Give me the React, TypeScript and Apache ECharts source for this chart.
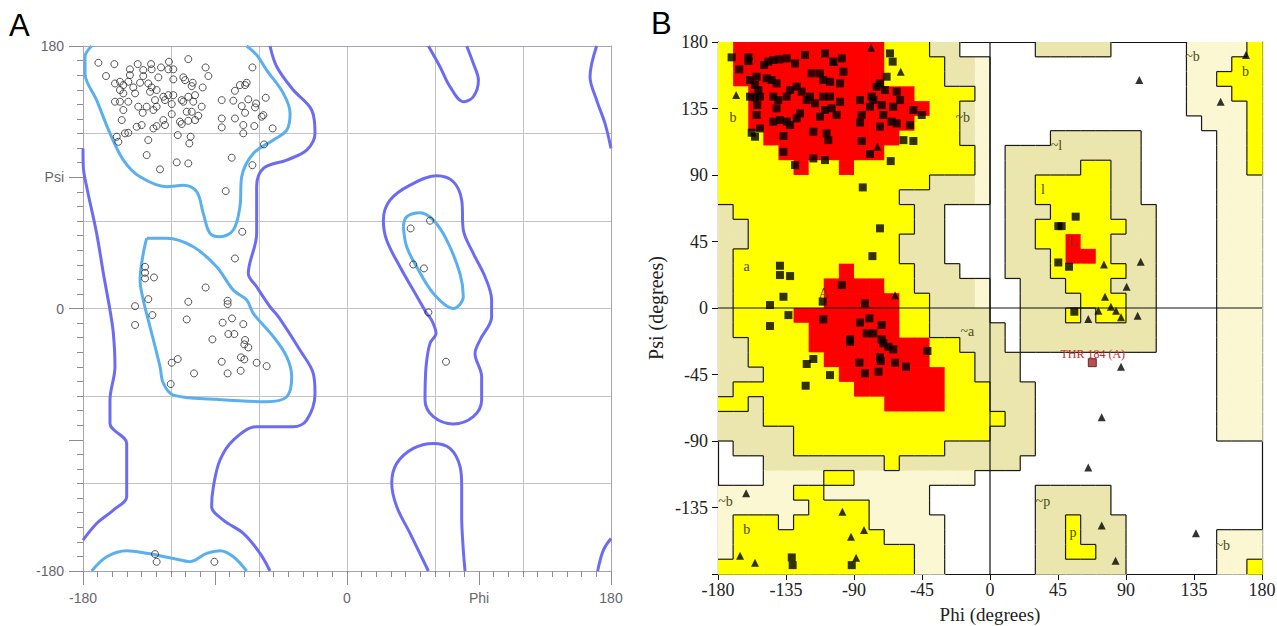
import React, { useEffect, useRef } from 'react';
import * as echarts from 'echarts';

// ---------------- Panel A data (phi, psi) ----------------
const A_POINTS: number[][] = [
  [-169.5,168.5],[-158.6,167.6],[-164.3,159.4],[-142.7,167.6],[-133.6,167.6],[-121.4,169.2],[-108.2,171],[-96.4,165.3],[-94.5,159.4],[-64.5,165.3],
  [-148,164],[-138.9,163.5],[-133.2,164],[-126.8,165.3],[-121.8,164],[-118.4,164],[-148,160.1],[-138.9,159.4],[-128.6,158.5],[-118.4,157.1],[-111.6,158.5],
  [-158.2,154.3],[-154.8,155.5],[-152.5,153.2],[-149.1,155.5],[-145.7,151.6],[-141.1,154.8],[-135.5,154.3],[-133.2,151.6],[-129.8,149.8],[-110.4,156.6],
  [-105.9,152.5],[-105.2,154.8],[-98.4,151.6],[-154.8,149.8],[-152.5,147.5],[-144.5,147.5],[-134.3,148.6],[-125.2,145.2],[-121.8,146.3],[-118.4,146.3],
  [-112.7,142.9],[-108.2,145.2],[-103.6,146.3],[-158.2,141.8],[-154.8,141.8],[-149.1,141.8],[-142.3,138.4],[-136.6,138.4],[-130.9,142.9],[-129.8,138.4],
  [-124.1,142.9],[-119.5,140.2],[-111.6,141.8],[-104.8,141.8],[-99.1,138.4],[-152.5,136.1],[-139.3,134.2],[-132,136.1],[-119.5,133.3],[-109.3,134.9],
  [-105.9,134.9],[-101.4,132.2],[-153.6,129.2],[-143.4,124.6],[-140,125.8],[-132,123.5],[-129.8,125.1],[-125.2,129.2],[-124.1,125.8],[-113.9,128.1],
  [-112.7,126.5],[-108.2,128.7],[-103.6,129.2],[-157,117.8],[-155.9,114.3],[-151.4,120.1],[-149.1,120.5],[-135.5,115.5],[-115.4,118.9],[-106.6,117.8],
  [-107.5,113.2],[-85.4,142.9],[-77.5,142.5],[-71.8,138.8],[-67.3,143.4],[-62,140.6],[-85.4,130.3],[-76.4,130.3],[-69.5,134.2],[-62.7,137.9],
  [-58.2,131.5],[-85.4,124.2],[-70.7,125.8],[-63.2,125.1],[-50.7,123.5],[-70.7,120.1],[-76.4,149.3],[-73,153.2],[-69.5,153.2],[-68.4,154.8],
  [-55.4,144.5],[-57,132.6],[-56.6,112.5],[-136.6,105.2],[-127.5,95.4],[-116.1,100.2],[-108.2,99.5],[-78.6,103.4],[-64.5,98.3],[-82.7,80.5],
  [-71.4,52.6],[-76.4,34.3],[-137.7,28.6],[-137.7,24.5],[-137.7,20.6],[-131.6,21.3],[-96.4,14.4],[-144.5,1.6],[-135.5,6.4],[-108.2,4.6],
  [-81.4,5.3],[-81.4,3],[-132.7,-4.5],[-144.5,-11.3],[-109.3,-7.5],[-78.4,-6.8],[-84.8,-9.7],[-70.7,-10.7],[-80.9,-17.5],[-76.8,-17.5],
  [-91.8,-21.2],[-69.5,-21.6],[-70,-24.6],[-67.3,-26.7],[-72.3,-33.5],[-70,-34.9],[-85.4,-36.5],[-61.6,-37.2],[-54.8,-39.5],[-81.4,-44.5],
  [-72.5,-42.7],[-119.5,-37.2],[-115.4,-34.7],[-104.3,-44.5],[-120.2,-51.8],[-130.9,-168.4],[-129.8,-173.7],[-90.4,-173.7],
  [56.6,60.2],[43.4,54.9],[45.2,30.2],[52.5,27.5],[55.5,-2.7],[67.5,-36.5]
];

const A_INNER: number[][][] = [
  [[-174.1,180],[-178.6,172.6],[-178.6,161.2],[-170.7,142.9],[-161.6,120.1],[-152.5,101.8],[-141.1,90.3],[-122.9,83.5],[-111.6,84.6],[-102.5,80.1],[-98,65.2],[-93.4,51.5],[-86.6,49.2],[-77.5,53.8],[-73,69.8],[-71.8,90.3],[-63.9,106.3],[-50.2,115.5],[-41.1,122.3],[-38.8,133.8],[-43.4,147.5],[-54.8,163.5],[-61.6,173.8],[-68.4,180]],
  [[-136.6,48.1],[-138.9,37.8],[-141.1,19.5],[-138.9,5.8],[-135.5,-7.9],[-132,-21.6],[-127.5,-39.9],[-125.2,-51.4],[-118.4,-59.4],[-88.9,-62.3],[-54.8,-63.9],[-41.1,-60.5],[-37.7,-46.8],[-41.1,-33.1],[-50.2,-19.3],[-63.9,-3.3],[-68.4,5.8],[-77.5,12.6],[-88.9,28.6],[-104.8,42.3],[-123,48.1],[-136.6,48.1]],
  [[38.4,56.1],[40.7,42.3],[47.5,28.6],[58.9,10.3],[72.5,0],[79.3,8],[77,24],[68,46.9],[58.9,60.6],[49.8,65.7],[40.7,62.9],[38.4,56.1]],
  [[-174.1,-180],[-163.8,-170.2],[-150.2,-166.1],[-136.6,-167.9],[-118.4,-171.4],[-107,-173.6],[-95.7,-167.9],[-86.6,-166.1],[-77.5,-170.2],[-68.4,-180]]
];

const A_OUTER: number[][][] = [
  [[-180,109.8],[-179.8,97.2],[-177.5,83.5],[-170.7,51.5],[-166.1,24],[-161.6,-1.1],[-159.3,-17.1],[-158.2,-39.9],[-161.6,-62.8],[-161.6,-78.8],[-150.2,-92.5],[-150.2,-108.5],[-150.2,-129.1],[-159.3,-138.2],[-170.7,-147.4],[-180,-158.8]],
  [[-52.5,180],[-47.9,165.8],[-36.6,149.8],[-24.1,136.1],[-21.8,120.1],[-27.5,108.6],[-41.1,101.8],[-57,96.1],[-61.6,83.5],[-61.6,51.5],[-67.3,24],[-61.6,14.9],[-52.5,1.2],[-46.8,-5.6],[-32.1,-28.5],[-23,-44.5],[-21.8,-58.2],[-27.5,-76.5],[-36.6,-81.1],[-61.6,-81.1],[-77.5,-90.2],[-86.6,-103.9],[-91.1,-122.2],[-92.3,-135.9],[-84.3,-145.1],[-70.7,-154.2],[-59.3,-167.9],[-52.5,-180]],
  [[55.5,180],[63.4,165.8],[70.2,152.1],[79.3,141.8],[86.1,145.2],[89.6,156.6],[86.1,168.1],[81.6,180]],
  [[170.2,180],[165.7,158.9],[170.2,142.9],[175.9,126.9],[180,109.8]],
  [[54.3,-3.4],[45.2,12.6],[36.1,28.6],[27,46.9],[24.8,60.6],[29.3,74.3],[43,84.6],[61.1,91],[72.5,86.9],[78.2,74.3],[79.3,53.8],[86.1,37.8],[94.1,21.8],[98.6,5.8],[98.6,-5.6],[90.7,-21.6],[87.3,-30.8],[91.8,-46.8],[91.8,-62.8],[86.1,-74.2],[72.5,-79.2],[58.9,-74.2],[53.2,-62.8],[53.9,-39.9],[56.6,-23.9],[60.7,-17.1],[57.7,-7.9],[54.3,-3.4]],
  [[55.5,-180],[43,-154.2],[33.9,-135.9],[30.5,-119.9],[33.9,-106.2],[45.2,-95.9],[58.9,-92.5],[70.2,-95.9],[77.1,-108.5],[78.2,-122.2],[78.2,-142.8],[79.3,-165.7],[80.5,-180]],
  [[170.9,-180],[174.8,-165.7],[180,-157.7]]
];

// ---------------- Panel B data ----------------
// 10-degree cells, rows from psi 180 (top) down, columns from phi -180 (left)
const B_MAP: string[] = [
  'YRRRRRRRRRRYYYGGWWWWWGGGGGWWWWWLLLLY',
  'YRRRRRRRRRRYYYYGGLWWWWWWWWWWWWWLLLYY',
  'YRRRRRRRRRRYYYYGGLWWWWWWWWWWWWWLLYYY',
  'YYRRRRRRRRRRRYYYYLWWWWWWWWWWWWWLLLYY',
  'YYRRRRRRRRRRRRYYGLWWWWWWWWWWWWWLLLLY',
  'YYRRRRRRRRRRRYYYGLWWWWWWWWWWWWWWLLLY',
  'YYYRRRRRRRRRYYYYGLWWWWGGGGGGWWWWWLLY',
  'YYYYRRRRRRRYYYYYYLWGGGGGGGGGWWWWWLLY',
  'YYYYYRYYRYYYYYYYYLWGGGGGYYGGWWWWWLLY',
  'YYYYYYYYYYYYYYGGGLWGGYYYYYGGWWWWWLLL',
  'YYYYYYYYYYYYGGGGGLWGGYYYYYGGWWWWWLLL',
  'GYYYYYYYYYYYYGGWWWWGGGYYYYGGGWWWWLLL',
  'GGYYYYYYYYYYYGGWWWWGGYYYYYYGGWWWWLLL',
  'GGYYYYYYYYYYGGGWWWWGGYYRYYGGGWWWWLLL',
  'GYYYYYYYYYYYGGGWWWWGGGYRRYGGGWWWWLLL',
  'GYYYYYYYRYYYYGGGWWWGGGYYYYYGGWWWWLLL',
  'GYYYYYYRRRRYYGGGGLWWGGGYYYGGGWWWWLLL',
  'GYYYYYYRRRRRYYGGGLWWGGGGYYYGGWWWWLLL',
  'GYYYYRRRRRRRYYGGGGWWGGGYGYYGGWWWWLLL',
  'GYYYYYRRRRRRYYGGGGGWGGGGGGGGGWWWWLLL',
  'GGYYYYRRRRRRRRYYGGGWGGGGGGGGGWWWWLLL',
  'GGYYYYYRRRRRRRYYYGGGWWWWWWWWWWWWWLLL',
  'GGGYYYYYRRRRRRRYYGGGWWWWWWWWWWWWWLLL',
  'GYYYYYYYYRRRRRRYYYGGGWWWWWWWWWWWWLLL',
  'YYGYYYYYYYYRRRRYYYGGGWWWWWWWWWWWWLLL',
  'GGGYYYYYYYYYYYYYYYYGGWWWWWWWWWWWWLLL',
  'GGGGGYYYYYYYYYYYYYGGGWWWWWWWWWWWWLLL',
  'WGGGGYYYYYYYYYYGGGGGGWWWWWWWWWWWWWWW',
  'WWWGGGGGGGGYGGGGGGGGWWWWWWWWWWWWWWWW',
  'WWWLLLLYYLLLLLLLLWWWWWWWWWWWWWWWWWWW',
  'LLLLLYYLLLLLLLWWWWWWWGGGGGWWWWWWWWWW',
  'LLLLLLYYYYLLLLWWWWWWWGGGGGWWWWWWWWWW',
  'LYYYLYYYYYLLLLLWWWWWWGGYGGGWWWWWWWWW',
  'LYYYYYYYYYYLLLLWWWWWWGGYGGGWWWWWWLLL',
  'LYYYYYYYYYYYYLLWWWWWWGGYYGGWWWWWWLLL',
  'YYYYYYYYYYYYYLLWWWWWWGGGGGGWWWWWWLLY'
];

const B_SQUARES: number[][] = [
  [-171,169.6],[-165.9,161.5],[-159.9,169.6],[-159.9,167.1],[-158.8,154.3],[-154.4,156.5],[-155.5,150.9],[-153.3,147.5],[-158.8,143],[-155.5,142.5],
  [-152.2,143],[-154,137.3],[-154.4,130.6],[-157.7,118.6],[-155.5,115.9],[-152.2,121.5],[-149.5,164.4],[-146.7,166.7],[-143.4,167.8],[-139.4,168.2],
  [-134.5,168.9],[-129,165.5],[-122.4,171.2],[-147.8,155.4],[-144.5,154.3],[-141.2,152],[-143.4,143],[-140.1,140.7],[-141.2,135.1],[-143.4,126.1],
  [-139,127.2],[-134.5,126.1],[-136.7,116.4],[-132.3,123.8],[-127.9,128.3],[-125.7,131.7],[-134.5,143],[-132.3,147.5],[-127.9,149.7],[-124.6,146.4],
  [-121.3,140.7],[-119.1,143],[-115.8,138.5],[-118,158.8],[-112.5,158.8],[-109.2,172.3],[-110.3,154.3],[-105.9,153.1],[-99.2,152],[-98.1,168.9],
  [-97,159.9],[-103.7,166.7],[-116.9,119.3],[-108.1,118.2],[-107,113.6],[-112.5,129.4],[-109.2,134],[-104.8,135.1],[-101.5,130.6],[-105.9,143],
  [-110.3,143],[-99.2,139.6],[-136.7,105.7],[-129,96.7],[-116.9,101.2],[-109.2,100.1],[-84.9,113],[-79.4,104.2],[-65.7,99.4],[-86,140.7],
  [-84.9,130.6],[-86,125.4],[-79.4,136.2],[-78.3,143],[-75,149.7],[-72.8,152],[-68.4,156.5],[-66.2,172.3],[-64.4,166.7],[-61.7,146.4],
  [-59.5,140.7],[-64,136.2],[-61.7,124.9],[-65.1,126.1],[-57.3,113.6],[-50.7,113],[-50.7,134],[-45.2,130.6],[-52.9,123.8],[-70.6,130.6],
  [-72.8,122.7],[-77.2,140.7],[-69.5,147.5],[-71.7,137.3],
  [-84.2,81.6],[-72.8,53.9],[-77.8,35.1],[-139,28.6],[-139,22.3],[-132.3,21.6],[-136.7,7.6],[-98.1,15.5],
  [-145.6,2],[-133.4,-4.8],[-145.6,-12.2],[-110.3,-7.7],[-110.7,4.3],[-82.7,3.1],[-86,-9.9],[-79.8,-7],[-71.7,-11.5],[-81.6,-17.2],
  [-77.2,-17.2],[-92.6,-21.2],[-92.6,-22.8],[-71.7,-21.2],[-70.6,-23.9],[-67.3,-26.2],[-64,-28],[-41.4,-29.1],[-72.8,-33.4],[-72.3,-35.9],
  [-62.8,-37],[-55.6,-39.7],[-86.4,-37],[-82.7,-44.2],[-73.7,-43.1],[-121.3,-37.9],[-116.9,-34.5],[-105.9,-45.4],[-122,-52.6],
  [-131.2,-168.8],[-130.6,-174],[-91.5,-174],
  [56.7,61.8],[45.2,55.4],[47.4,55.4],[45.2,30.8],[52.3,27.9],[55.8,-2.5]
];

const B_TRIANGLES: number[][] = [
  [-168,144.1],[-103.2,166.7],[-78.7,176.1],[-74.5,109.1],[-59.1,159.9],[-62.8,8.7],[-161.4,-125.4],[-97.7,-137.9],[-83.4,-150.3],[-92,-154.8],
  [-165.4,-167.6],[-155.5,-172.4],[-88.6,-169],[98.8,154.3],[169.4,171.2],[152.6,139.6],[99.7,31.3],[75.4,29.5],[90.4,14.4],[76.1,7.6],
  [65,-7.5],[71.7,-1.8],[80,0.9],[83.4,-1.8],[86.7,-6.3],[97.7,-5.2],[86.7,-39.7],[73.9,-74],[65,-107.9],[73.9,-147.1],[83.1,-171],[136.3,-152.5]
];

const B_OUTLIER: number[][] = [[67.7, -37]];

const B_LABEL_POS: number[][] = [
  [-158,168],[-170,129],[-161,28],[-110,10],[-18,129],[44,110],[35,80],[55,45],[134,170],[169,160],
  [-15,-16],[35,-131],[55,-152],[154,-161],[-175,-131],[-161,-150],[68,-31]
];
const B_LABEL_TEXT: string[] = ['B','b','a','A','~b','~l','l','L','~b','b','~a','~p','p','~b','~b','b','THR 184 (A)'];
const B_LABEL_RED: boolean[] = [true,false,false,true,false,false,false,true,false,false,false,false,false,false,false,false,true];

const AXIS_TICKS_B: number[] = [-180, -135, -90, -45, 0, 45, 90, 135, 180];

const CELL_COLORS: Record<string, string> = { R: '#ff0000', Y: '#ffff00', G: '#ebe6ad', L: '#faf7d2' };

export default function App() {
  const ref = useRef<HTMLDivElement>(null);

  useEffect(() => {
    if (!ref.current) return;
    const chart = echarts.init(ref.current, undefined, { renderer: 'svg' });

    const cells: { value: number[]; k: string }[] = [];
    B_MAP.forEach((row, r) => {
      for (let c = 0; c < 36; c++) {
        const k = row[c];
        if (k !== 'W') cells.push({ value: [-180 + 10 * c, 170 - 10 * r], k });
      }
    });
    const rank = (k: string) => (k === 'R' ? 3 : k === 'Y' ? 2 : k === 'G' || k === 'L' ? 1 : 0);
    const need = (a: string, b: string) => a !== 'R' && b !== 'R' && rank(a) !== rank(b);
    const edges: number[][] = [];
    for (let r = 0; r < 36; r++) {
      for (let c = 0; c < 36; c++) {
        const k = B_MAP[r][c];
        if (c < 35 && need(k, B_MAP[r][c + 1])) {
          const x = -170 + 10 * c;
          edges.push([x, 180 - 10 * r, x, 170 - 10 * r]);
        }
        if (r < 35 && need(k, B_MAP[r + 1][c])) {
          const y = 170 - 10 * r;
          edges.push([-180 + 10 * c, y, -170 + 10 * c, y]);
        }
      }
    }

    const greyAxis = '#a8a3ad';
    const labelGrey = '#66666e';
    const sans = '"Liberation Sans", Arial, sans-serif';
    const serif = '"Liberation Serif", "Times New Roman", serif';

    const series: any[] = [];
    A_INNER.forEach((d) =>
      series.push({ type: 'line', xAxisIndex: 0, yAxisIndex: 0, data: d, smooth: 0.35, showSymbol: false, symbol: 'none', z: 3,
        lineStyle: { color: '#5aafef', width: 3 } }));
    A_OUTER.forEach((d) =>
      series.push({ type: 'line', xAxisIndex: 0, yAxisIndex: 0, data: d, smooth: 0.35, showSymbol: false, symbol: 'none', z: 3,
        lineStyle: { color: '#6b6cf2', width: 3 } }));
    series.push({ type: 'scatter', xAxisIndex: 0, yAxisIndex: 0, data: A_POINTS, symbol: 'circle', symbolSize: 7, z: 5,
      itemStyle: { color: 'rgba(255,255,255,0)', borderColor: '#2a2a2a', borderWidth: 1 } });

    series.push({
      type: 'custom', xAxisIndex: 2, yAxisIndex: 2, data: cells.map((c) => c.value), z: 2,
      renderItem: (params: any, api: any) => {
        const p1 = api.coord([api.value(0), api.value(1) + 10]);
        const p2 = api.coord([api.value(0) + 10, api.value(1)]);
        return { type: 'rect', shape: { x: p1[0], y: p1[1], width: p2[0] - p1[0] + 0.7, height: p2[1] - p1[1] + 0.7 },
          style: { fill: CELL_COLORS[cells[params.dataIndex].k] } };
      }
    });
    series.push({
      type: 'custom', xAxisIndex: 2, yAxisIndex: 2, data: edges, z: 3,
      renderItem: (params: any, api: any) => {
        const e = edges[params.dataIndex];
        const a = api.coord([e[0], e[1]]);
        const b = api.coord([e[2], e[3]]);
        return { type: 'line', shape: { x1: a[0], y1: a[1], x2: b[0], y2: b[1] }, style: { stroke: '#1a1a1a', lineWidth: 1.2 } };
      }
    });
    series.push({ type: 'line', xAxisIndex: 2, yAxisIndex: 2, data: [[0, -180], [0, 180]], symbol: 'none', z: 4,
      lineStyle: { color: '#111', width: 1.2 } });
    series.push({ type: 'line', xAxisIndex: 2, yAxisIndex: 2, data: [[-180, 0], [180, 0]], symbol: 'none', z: 4,
      lineStyle: { color: '#111', width: 1.2 } });
    series.push({
      type: 'custom', xAxisIndex: 2, yAxisIndex: 2, data: B_LABEL_POS, z: 6,
      renderItem: (params: any, api: any) => {
        const i = params.dataIndex;
        const p = api.coord([B_LABEL_POS[i][0], B_LABEL_POS[i][1]]);
        return { type: 'text', x: p[0], y: p[1],
          style: { text: B_LABEL_TEXT[i], fill: B_LABEL_RED[i] ? (i === 16 ? '#c42a2a' : '#9a2a1a') : '#4a4a1a',
            fontSize: i === 16 ? 12 : 14, fontFamily: serif, align: 'center', verticalAlign: 'middle' } };
      }
    });
    series.push({ type: 'scatter', xAxisIndex: 2, yAxisIndex: 2, data: B_SQUARES, symbol: 'rect', symbolSize: 8, z: 7,
      itemStyle: { color: '#000' } });
    series.push({ type: 'scatter', xAxisIndex: 2, yAxisIndex: 2, data: B_TRIANGLES, symbol: 'triangle', symbolSize: 8, z: 7,
      itemStyle: { color: '#000' } });
    series.push({ type: 'scatter', xAxisIndex: 2, yAxisIndex: 2, data: B_OUTLIER, symbol: 'rect', symbolSize: 8, z: 7,
      itemStyle: { color: '#b32020', borderColor: '#222', borderWidth: 1 } });

    const fmtA = (v: number, mid: string) => (v === 90 ? mid : v === -90 ? '' : String(v));

    chart.setOption({
      animation: false,
      backgroundColor: '#ffffff',
      grid: [
        { left: 83, top: 46, width: 528, height: 525, containLabel: false, outerBoundsMode: 'none' },
        { left: 718, top: 42, width: 544, height: 532, containLabel: false, outerBoundsMode: 'none' }
      ],
      xAxis: [
        { gridIndex: 0, type: 'value', min: -180, max: 180, interval: 90,
          axisLine: { show: true, onZero: false, lineStyle: { color: greyAxis } },
          axisTick: { show: true, length: 14, lineStyle: { color: '#8e8994' } },
          minorTick: { show: true, splitNumber: 9, length: 6, lineStyle: { color: '#8e8994' } },
          splitLine: { show: false },
          axisLabel: { formatter: (v: number) => fmtA(v, 'Phi'), color: labelGrey, fontSize: 14, fontFamily: sans, margin: 20 } },
        { gridIndex: 0, type: 'value', min: -180, max: 180, interval: 60, position: 'top',
          axisLine: { show: true, onZero: false, lineStyle: { color: greyAxis } }, axisTick: { show: false }, axisLabel: { show: false },
          splitLine: { show: true, lineStyle: { color: '#c5c1ca', width: 1 } } },
        { gridIndex: 1, type: 'value', min: -180, max: 180, interval: 45,
          axisLine: { show: true, onZero: false, lineStyle: { color: '#111', width: 1.2 } },
          axisTick: { show: true, length: 6, lineStyle: { color: '#111' } },
          splitLine: { show: false },
          axisLabel: { color: '#222', fontSize: 18, fontFamily: serif, margin: 7 } },
        { gridIndex: 1, type: 'value', min: -180, max: 180, position: 'top',
          axisLine: { show: true, onZero: false, lineStyle: { color: '#111', width: 1.2 } }, axisTick: { show: false },
          axisLabel: { show: false }, splitLine: { show: false } }
      ],
      yAxis: [
        { gridIndex: 0, type: 'value', min: -180, max: 180, interval: 90,
          axisLine: { show: true, onZero: false, lineStyle: { color: greyAxis } },
          axisTick: { show: true, length: 14, lineStyle: { color: '#8e8994' } },
          minorTick: { show: true, splitNumber: 9, length: 6, lineStyle: { color: '#8e8994' } },
          splitLine: { show: false },
          axisLabel: { formatter: (v: number) => fmtA(v, 'Psi'), color: labelGrey, fontSize: 14, fontFamily: sans, margin: 19 } },
        { gridIndex: 0, type: 'value', min: -180, max: 180, interval: 60, position: 'right',
          axisLine: { show: true, onZero: false, lineStyle: { color: greyAxis } }, axisTick: { show: false }, axisLabel: { show: false },
          splitLine: { show: true, lineStyle: { color: '#c5c1ca', width: 1 } } },
        { gridIndex: 1, type: 'value', min: -180, max: 180, interval: 45,
          axisLine: { show: true, onZero: false, lineStyle: { color: '#111', width: 1.2 } },
          axisTick: { show: true, length: 6, lineStyle: { color: '#111' } },
          splitLine: { show: false },
          axisLabel: { color: '#222', fontSize: 18, fontFamily: serif, margin: 10,
            formatter: (v: number) => (AXIS_TICKS_B.indexOf(v) >= 0 && v !== -180 ? String(v) : '') },
          name: 'Psi (degrees)', nameLocation: 'middle', nameGap: 52, nameRotate: 90,
          nameTextStyle: { color: '#222', fontSize: 20, fontFamily: serif } },
        { gridIndex: 1, type: 'value', min: -180, max: 180, position: 'right',
          axisLine: { show: true, onZero: false, lineStyle: { color: '#111', width: 1.2 } }, axisTick: { show: false },
          axisLabel: { show: false }, splitLine: { show: false } }
      ],
      graphic: [
        { type: 'text', left: 9, top: 10, style: { text: 'A', fontSize: 31, fontFamily: sans, fill: '#000' } },
        { type: 'text', left: 651, top: 8, style: { text: 'B', fontSize: 31, fontFamily: sans, fill: '#000' } },
        { type: 'text', x: 990, y: 614, style: { text: 'Phi (degrees)', fontSize: 19, fontFamily: serif, fill: '#222',
          align: 'center', verticalAlign: 'middle' } }
      ],
      series
    });

    return () => chart.dispose();
  }, []);

  return <div ref={ref} style={{ position: 'absolute', left: 0, top: 0, width: 1277, height: 626 }} />;
}
